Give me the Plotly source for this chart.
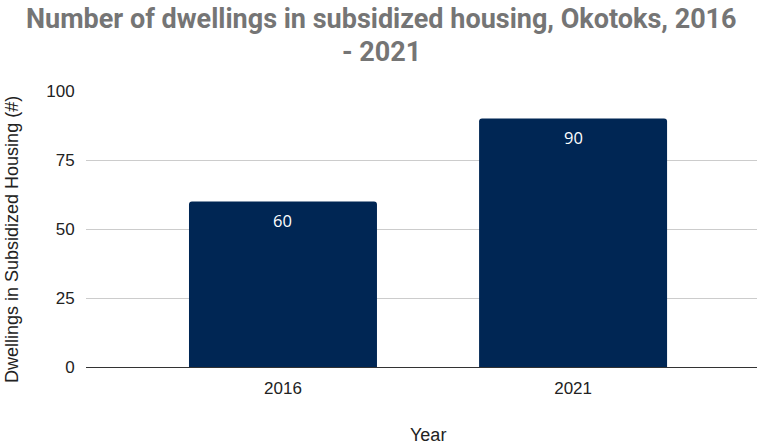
import plotly.graph_objects as go

years = ["2016", "2021"]
dwellings = [60, 90]
y_ticks = [0, 25, 50, 75, 100]

title_lines = ["Number of dwellings in subsidized housing, Okotoks, 2016", "- 2021"]
x_title = "Year"
y_title = "Dwellings in Subsidized Housing (#)"

L, R, T, B = 86, 6, 91, 78
W, H = 763, 445
pw, ph = W - L - R, H - T - B

fig = go.Figure()
fig.add_trace(go.Bar(
    x=years, y=dwellings,
    marker=dict(color="#002654", cornerradius=3, line=dict(width=0)),
    width=0.648,
    hoverinfo="skip",
))
for i, v in enumerate(dwellings):
    fig.add_annotation(x=i, y=v, text=str(v), showarrow=False, yshift=-19,
                       font=dict(family="Open Sans", size=16.5, color="#ffffff"))

# title (two lines, tighter line spacing like the reference)
for k, line in enumerate(title_lines):
    fig.add_annotation(xref="paper", yref="paper", x=(381.5 - L) / pw, y=1 + (T - 1 - 33 * k) / ph,
                       xanchor="center", yanchor="top", align="center", showarrow=False,
                       text=line,
                       font=dict(family="Roboto", size=27, color="#757575", weight="bold"))
# axis titles
fig.add_annotation(xref="paper", yref="paper", x=(428 - L) / pw, y=(T + ph - 435) / ph,
                   xanchor="center", yanchor="middle", showarrow=False, text=x_title,
                   font=dict(family="Liberation Sans", size=18, color="#222222"))
fig.add_annotation(xref="paper", yref="paper", x=(12 - L) / pw, y=(T + ph - 240) / ph,
                   xanchor="center", yanchor="middle", showarrow=False, text=y_title, textangle=-90,
                   font=dict(family="Liberation Sans", size=18, color="#222222"))

fig.update_layout(
    width=W, height=H,
    margin=dict(l=L, r=R, t=T, b=B),
    paper_bgcolor="white", plot_bgcolor="white",
    showlegend=False,
    xaxis=dict(type="category", range=[-0.679, 1.634],
               showgrid=False, showline=True, linecolor="#333333", linewidth=1,
               ticks="outside", ticklen=6, tickcolor="rgba(0,0,0,0)",
               tickfont=dict(family="Liberation Sans", size=17, color="#222222")),
    yaxis=dict(range=[0, 100], tickvals=y_ticks, showgrid=True, gridcolor="#cccccc",
               zeroline=False, showline=False,
               ticks="outside", ticklen=7, tickcolor="rgba(0,0,0,0)",
               tickfont=dict(family="Liberation Sans", size=17, color="#222222")),
)
fig.write_html("out.html")
